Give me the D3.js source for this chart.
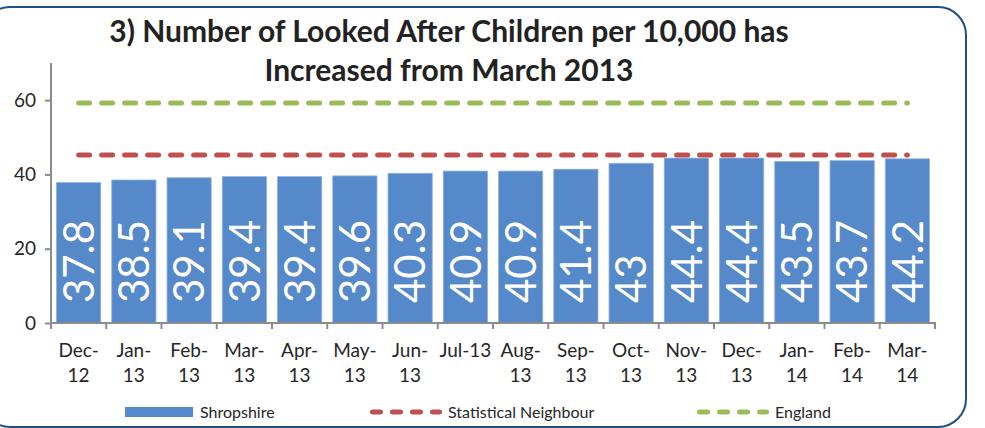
<!DOCTYPE html>
<html>
<head>
<meta charset="utf-8">
<script src="https://cdn.jsdelivr.net/npm/d3@7"></script>
<style>
  html, body { margin: 0; padding: 0; background: #fff; }
  svg { display: block; }
  text { font-family: Lato, "Open Sans", sans-serif; }
</style>
</head>
<body>
<svg id="chart" width="985" height="428"></svg>
<script>
const categories = ["Dec-12","Jan-13","Feb-13","Mar-13","Apr-13","May-13","Jun-13","Jul-13","Aug-13","Sep-13","Oct-13","Nov-13","Dec-13","Jan-14","Feb-14","Mar-14"];
const tickLabels = [["Dec-","12"],["Jan-","13"],["Feb-","13"],["Mar-","13"],["Apr-","13"],["May-","13"],["Jun-","13"],["Jul-13"],["Aug-","13"],["Sep-","13"],["Oct-","13"],["Nov-","13"],["Dec-","13"],["Jan-","14"],["Feb-","14"],["Mar-","14"]];
const shropshire = [37.8, 38.5, 39.1, 39.4, 39.4, 39.6, 40.3, 40.9, 40.9, 41.4, 43, 44.4, 44.4, 43.5, 43.7, 44.2];
const statNeighbour = [45.2, 45.2, 45.2, 45.2, 45.2, 45.2, 45.2, 45.2, 45.2, 45.2, 45.2, 45.2, 45.2, 45.2, 45.2, 45.2];
const england = [59.2, 59.2, 59.2, 59.2, 59.2, 59.2, 59.2, 59.2, 59.2, 59.2, 59.2, 59.2, 59.2, 59.2, 59.2, 59.2];
const yTicks = [0, 20, 40, 60];
const titleLines = ["3) Number of Looked After Children per 10,000 has", "Increased from March 2013"];
const legendItems = ["Shropshire", "Statistical Neighbour", "England"];

const svg = d3.select("#chart");
const BLUE = "#5689c9", RED = "#c0504d", GREEN = "#9bbb59", AXIS = "#8c8c8c", TXT = "#262626";

// frame
svg.append("rect")
  .attr("x", -18).attr("y", 7).attr("width", 984).attr("height", 420)
  .attr("rx", 28).attr("ry", 28)
  .attr("fill", "none").attr("stroke", "#1f4f84").attr("stroke-width", 2);

const x = d3.scaleBand().domain(categories).range([51, 935]).paddingInner(0.2).paddingOuter(0.1);
const y = d3.scaleLinear().domain([0, 70]).range([323, 63]);

// title
const title = svg.append("text").attr("text-anchor", "middle").attr("font-weight", "bold")
  .attr("font-size", 30).attr("fill", "#222");
title.selectAll("tspan").data(titleLines).join("tspan")
  .attr("x", 449).attr("y", (d, i) => 42 + i * 39).text(d => d);

// bars
svg.append("g").selectAll("rect").data(shropshire).join("rect")
  .attr("x", (d, i) => x(categories[i]))
  .attr("width", x.bandwidth())
  .attr("y", d => y(d))
  .attr("height", d => y(0) - y(d))
  .attr("fill", BLUE)
  .attr("stroke", "#8fb0dd").attr("stroke-width", 0.8);

// data labels
svg.append("g").selectAll("text").data(shropshire).join("text")
  .attr("transform", (d, i) => `translate(${x(categories[i]) + x.bandwidth() / 2},${y(0) - 20}) rotate(-90)`)
  .attr("dy", "0.36em")
  .attr("font-size", 42)
  .attr("fill", "#fff")
  .text(d => String(d));

// lines
const line = d3.line().x((d, i) => x(categories[i]) + x.bandwidth() / 2).y(d => y(d));
[[statNeighbour, RED], [england, GREEN]].forEach(([data, col]) => {
  svg.append("path").datum(data).attr("d", line)
    .attr("fill", "none").attr("stroke", col).attr("stroke-width", 5)
    .attr("stroke-linecap", "round").attr("stroke-dasharray", "11,12");
});

// y axis
const yAxis = svg.append("g").attr("transform", "translate(51,0)")
  .call(d3.axisLeft(y).tickValues(yTicks).tickSize(6).tickPadding(9));
yAxis.select(".domain").attr("stroke", AXIS).attr("stroke-width", 2).attr("d", `M0,${y(70)}V${y(0)}`);
yAxis.selectAll(".tick line").attr("stroke", AXIS).attr("stroke-width", 2);
yAxis.selectAll(".tick text").attr("font-size", 19).attr("fill", TXT).attr("font-family", "Lato, sans-serif");

// x axis
const xg = svg.append("g");
xg.append("line").attr("x1", 50).attr("x2", 936).attr("y1", y(0)).attr("y2", y(0))
  .attr("stroke", AXIS).attr("stroke-width", 2);
const step = x.step();
const x0 = x.range()[0];
xg.selectAll("line.tk").data(d3.range(categories.length + 1)).join("line").attr("class", "tk")
  .attr("x1", i => x0 + i * step).attr("x2", i => x0 + i * step)
  .attr("y1", y(0)).attr("y2", y(0) + 6)
  .attr("stroke", AXIS).attr("stroke-width", 2);
const xl = xg.selectAll("text").data(categories).join("text")
  .attr("text-anchor", "middle").attr("font-size", 19).attr("fill", TXT);
xl.each(function(c, i) {
  d3.select(this).selectAll("tspan").data(tickLabels[i]).join("tspan")
    .attr("x", x(c) + x.bandwidth() / 2)
    .attr("y", (d, j) => 357 + j * 25)
    .text(d => d);
});

// legend
const lg = svg.append("g");
lg.append("rect").attr("x", 125).attr("y", 407).attr("width", 68).attr("height", 10).attr("fill", BLUE);
lg.append("text").attr("x", 200).attr("y", 418).attr("font-size", 16).attr("fill", TXT).text(legendItems[0]);
[[370, RED, 448, legendItems[1]], [697, GREEN, 775, legendItems[2]]].forEach(([lx, col, tx, label]) => {
  lg.append("line").attr("x1", lx + 2.5).attr("x2", lx + 72 - 2.5).attr("y1", 412).attr("y2", 412)
    .attr("stroke", col).attr("stroke-width", 5).attr("stroke-linecap", "round").attr("stroke-dasharray", "8,12");
  lg.append("text").attr("x", tx).attr("y", 418).attr("font-size", 16).attr("fill", TXT).text(label);
});
</script>
</body>
</html>
